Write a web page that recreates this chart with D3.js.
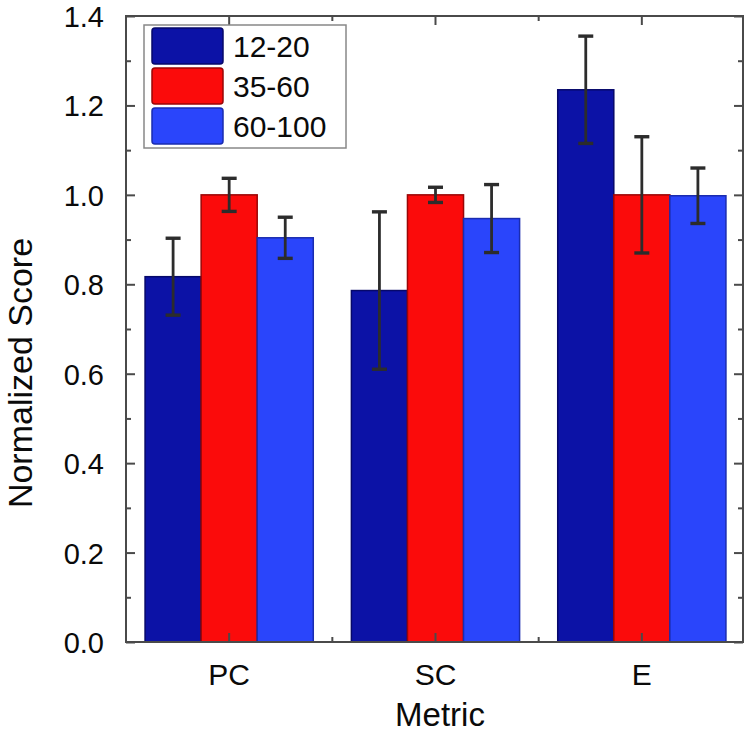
<!DOCTYPE html>
<html><head><meta charset="utf-8">
<script src="https://cdn.jsdelivr.net/npm/d3@7"></script>
<style>body{margin:0;background:#fff}svg{display:block}text{font-family:"Liberation Sans",Arial,sans-serif;fill:#0a0a0a}</style>
</head><body><svg id="c" width="750" height="735"></svg>
<script>
const categories = ["PC", "SC", "E"];
const seriesNames = ["12-20", "35-60", "60-100"];
const values12_20 = [0.817, 0.786, 1.235];
const values35_60 = [1.0, 1.0, 1.0];
const values60_100 = [0.904, 0.947, 0.998];
const err12_20 = [0.086, 0.176, 0.12];
const err35_60 = [0.037, 0.017, 0.13];
const err60_100 = [0.046, 0.076, 0.062];
const yTicks = [0.0, 0.2, 0.4, 0.6, 0.8, 1.0, 1.2, 1.4];
const yMinorTicks = [0.1, 0.3, 0.5, 0.7, 0.9, 1.1, 1.3];
const colors = ["#0c12a6", "#fb0b0b", "#2a45fb"];
const strokes = ["#06086a", "#9a0606", "#1a2cb0"];

const values = [values12_20, values35_60, values60_100];
const errs = [err12_20, err35_60, err60_100];

const svg = d3.select("#c");
const L = 126, R = 745, T = 16, B = 642;
const x0 = d3.scaleBand().domain(categories).range([L, R]).padding(0);
const x1 = d3.scaleBand().domain(seriesNames).range([0, x0.bandwidth()]).paddingInner(0).paddingOuter(0.34);
const y = d3.scaleLinear().domain([0, 1.4]).range([B, T]);

// bars
seriesNames.forEach((s, si) => {
  const g = svg.append("g");
  g.selectAll("rect").data(categories).join("rect")
    .attr("x", c => x0(c) + x1(s))
    .attr("y", (c, i) => y(values[si][i]))
    .attr("width", x1.bandwidth())
    .attr("height", (c, i) => y(0) - y(values[si][i]))
    .attr("fill", colors[si])
    .attr("stroke", strokes[si]).attr("stroke-width", 1.5);
});
// error bars
seriesNames.forEach((s, si) => {
  const g = svg.append("g").attr("stroke", "#2c2c2c").attr("stroke-width", 2.8);
  categories.forEach((c, i) => {
    const cx = x0(c) + x1(s) + x1.bandwidth() / 2;
    const v = values[si][i], e = errs[si][i];
    g.append("line").attr("x1", cx).attr("x2", cx).attr("y1", y(v - e)).attr("y2", y(v + e));
    g.append("line").attr("x1", cx - 7.5).attr("x2", cx + 7.5).attr("y1", y(v + e)).attr("y2", y(v + e)).attr("stroke-width", 3.4);
    g.append("line").attr("x1", cx - 7.5).attr("x2", cx + 7.5).attr("y1", y(v - e)).attr("y2", y(v - e)).attr("stroke-width", 3.4);
  });
});

// frame
const axisColor = "#4a4a4a";
svg.append("rect").attr("x", L).attr("y", T).attr("width", R - L - 2).attr("height", B - T)
  .attr("fill", "none").attr("stroke", axisColor).attr("stroke-width", 2);

const xMajor = categories.map(c => x0(c) + x0.bandwidth() / 2);
const xMinor = categories.slice(1).map(c => x0(c));
const tk = svg.append("g").attr("stroke", axisColor).attr("stroke-width", 2);
xMajor.forEach(xx => {
  tk.append("line").attr("x1", xx).attr("x2", xx).attr("y1", B).attr("y2", B - 9);
  tk.append("line").attr("x1", xx).attr("x2", xx).attr("y1", T).attr("y2", T + 9);
});
xMinor.forEach(xx => {
  tk.append("line").attr("x1", xx).attr("x2", xx).attr("y1", B).attr("y2", B - 5);
  tk.append("line").attr("x1", xx).attr("x2", xx).attr("y1", T).attr("y2", T + 5);
});

// y axis via d3 axes with inward ticks
const yAxisL = d3.axisLeft(y).tickValues(yTicks).tickFormat(d3.format(".1f")).tickSizeInner(-9).tickSizeOuter(0).tickPadding(22);
const gy = svg.append("g").attr("transform", `translate(${L},0)`).call(yAxisL);
gy.attr("font-size", null).attr("font-family", null);
gy.select(".domain").remove();
gy.selectAll(".tick line").attr("stroke", axisColor).attr("stroke-width", 2);
gy.selectAll(".tick text").style("font-size", "29px").attr("fill", "#0a0a0a").attr("dy", "0.36em");
const gyMinor = svg.append("g").attr("transform", `translate(${L},0)`).call(d3.axisLeft(y).tickValues(yMinorTicks).tickSizeInner(-5).tickSizeOuter(0).tickFormat(""));
gyMinor.select(".domain").remove();
gyMinor.selectAll(".tick line").attr("stroke", axisColor).attr("stroke-width", 2);
const gyR = svg.append("g").attr("transform", `translate(${R - 2},0)`).call(d3.axisRight(y).tickValues(yTicks).tickSizeInner(-9).tickSizeOuter(0).tickFormat(""));
gyR.select(".domain").remove();
gyR.selectAll(".tick line").attr("stroke", axisColor).attr("stroke-width", 2);
const gyRm = svg.append("g").attr("transform", `translate(${R - 2},0)`).call(d3.axisRight(y).tickValues(yMinorTicks).tickSizeInner(-5).tickSizeOuter(0).tickFormat(""));
gyRm.select(".domain").remove();
gyRm.selectAll(".tick line").attr("stroke", axisColor).attr("stroke-width", 2);

// x labels
svg.append("g").selectAll("text").data(categories).join("text")
  .attr("x", c => x0(c) + x0.bandwidth() / 2).attr("y", 685)
  .attr("text-anchor", "middle").style("font-size", "30px").text(c => c);
svg.append("text").attr("x", 440).attr("y", 726).attr("text-anchor", "middle").style("font-size", "33px").text("Metric");
svg.append("text").attr("transform", "translate(32,373) rotate(-90)").attr("text-anchor", "middle").style("font-size", "34px").text("Normalized Score");

// legend
const lg = svg.append("g");
lg.append("rect").attr("x", 144).attr("y", 25).attr("width", 202).attr("height", 123)
  .attr("fill", "#fff").attr("stroke", "#888").attr("stroke-width", 1.5);
seriesNames.forEach((s, i) => {
  const yy = 28 + i * 40;
  lg.append("rect").attr("x", 152).attr("y", yy).attr("width", 71).attr("height", 36)
    .attr("fill", colors[i]).attr("stroke", strokes[i]).attr("stroke-width", 1.5).attr("rx", 3);
  lg.append("text").attr("x", 233).attr("y", yy + 29).style("font-size", "30px").text(s);
});
</script></body></html>
